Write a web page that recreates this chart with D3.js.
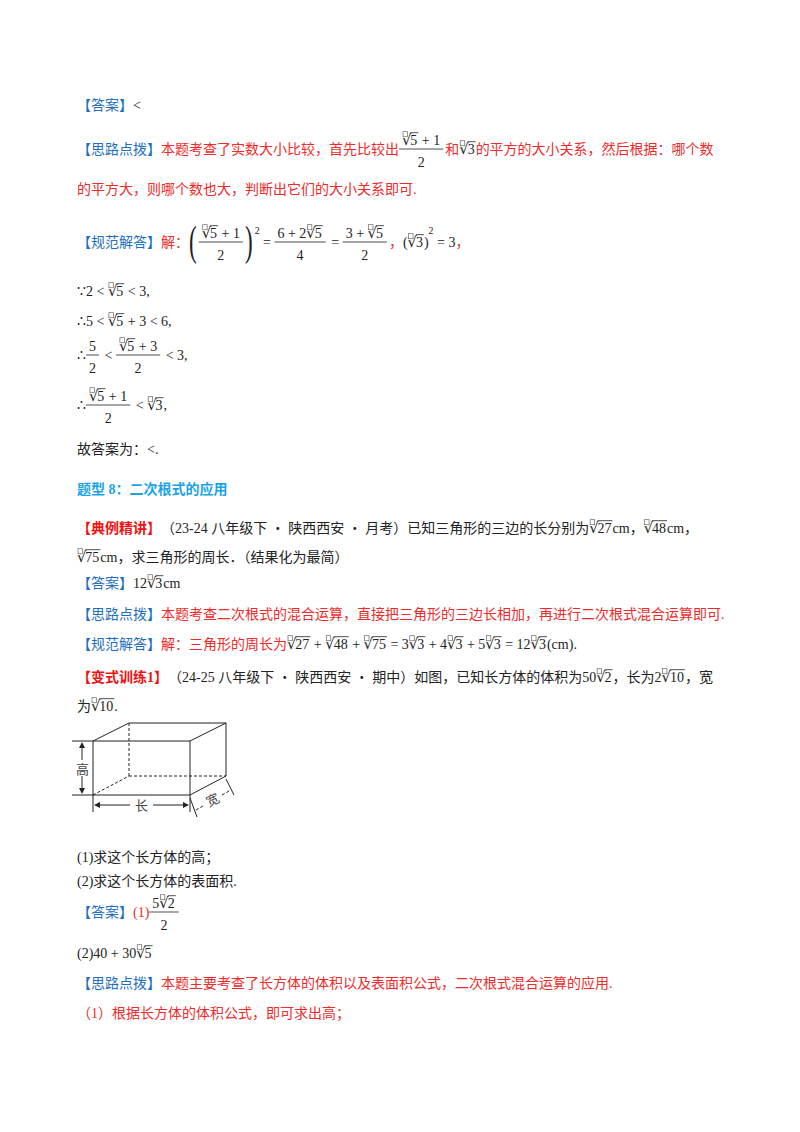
<!DOCTYPE html>
<html><head><meta charset="utf-8">
<script src="https://cdn.jsdelivr.net/npm/d3@7"></script>
<style>body{margin:0;background:#fff}</style></head>
<body><svg id="s" width="800" height="1132"></svg>
<script>
const BLUE="#1f6fc0", RED="#ee2a2a", BLK="#222", SKY="#1aa3e8", DRED="#ee1111";
const T=(s,c)=>({t:s,c:c}), R=(s,c)=>({r:s,c:c}), F=(n,d,c)=>({f:[n,d],c:c}), S=(s,c)=>({sup:s,c:c}), P=(s,c)=>({big:s,c:c});
// page text lines: [y, segments]
const lines=[
 [110,[T("【答案】",BLUE),T("<",BLK)]],
 [154,[T("【思路点拨】",BLUE),T("本题考查了实数大小比较，首先比较出",RED),F([R("5"),T(" + 1")],[T("2")]),T("和",RED),R("3"),T("的平方的大小关系，然后根据：哪个数",RED)]],
 [194,[T("的平方大，则哪个数也大，判断出它们的大小关系即可.",RED)]],
 [247,[T("【规范解答】",BLUE),T("解：",RED),P("("),F([R("5"),T(" + 1")],[T("2")]),P(")"),S("2"),T(" = "),F([T("6 + 2"),R("5")],[T("4")]),T(" = "),F([T("3 + "),R("5")],[T("2")]),T("，",RED),T("("),R("3"),T(")"),S("2"),T(" = 3"),T("，",RED)]],
 [296,[T("∵2 < ",BLK),R("5"),T(" < 3,",BLK)]],
 [326,[T("∴5 < ",BLK),R("5"),T(" + 3 < 6,",BLK)]],
 [360,[T("∴",BLK),F([T("5")],[T("2")]),T(" < "),F([R("5"),T(" + 3")],[T("2")]),T(" < 3,")]],
 [410,[T("∴",BLK),F([R("5"),T(" + 1")],[T("2")]),T(" < "),R("3"),T(",")]],
 [454,[T("故答案为：<.",BLK)]],
 [494,[T("题型 8：二次根式的应用",SKY)]],
 [533,[T("【典例精讲】",DRED),T("（23-24 八年级下 • 陕西西安 • 月考）已知三角形的三边的长分别为",BLK),R("27"),T("cm，",BLK),R("48"),T("cm，",BLK)]],
 [562,[R("75"),T("cm，求三角形的周长．（结果化为最简）",BLK)]],
 [588,[T("【答案】",BLUE),T("12"),R("3"),T("cm")]],
 [619,[T("【思路点拨】",BLUE),T("本题考查二次根式的混合运算，直接把三角形的三边长相加，再进行二次根式混合运算即可.",RED)]],
 [649,[T("【规范解答】",BLUE),T("解：三角形的周长为",RED),R("27"),T(" + "),R("48"),T(" + "),R("75"),T(" = 3"),R("3"),T(" + 4"),R("3"),T(" + 5"),R("3"),T(" = 12"),R("3"),T("(cm).")]],
 [682,[T("【变式训练1】",DRED),T("（24-25 八年级下 • 陕西西安 • 期中）如图，已知长方体的体积为50",BLK),R("2"),T("，长为2",BLK),R("10"),T("，宽",BLK)]],
 [711,[T("为",BLK),R("10"),T(".",BLK)]],
 [862,[T("(1)求这个长方体的高；",BLK)]],
 [886,[T("(2)求这个长方体的表面积.",BLK)]],
 [917,[T("【答案】",BLUE),T("(1)",RED),F([T("5"),R("2")],[T("2")])]],
 [958,[T("(2)40 + 30",BLK),R("5")]],
 [988,[T("【思路点拨】",BLUE),T("本题主要考查了长方体的体积以及表面积公式，二次根式混合运算的应用.",RED)]],
 [1018,[T("（1）根据长方体的体积公式，即可求出高；",RED)]]
];
const svg=d3.select("#s"), FS=14;
const CJK=/[\u3000-\u9fff\uff00-\uffef•]/;
function txt(g,s,x,y,c,fs,bold){
  // split into CJK / latin runs
  let w=0; const runs=s.match(/([\u3000-\u9fff\uff00-\uffef•]+|[^\u3000-\u9fff\uff00-\uffef•]+)/g)||[];
  runs.forEach(r=>{const cj=CJK.test(r);
    const e=g.append("text").attr("x",x+w).attr("y",y).attr("fill",c).attr("font-size",fs)
     .attr("font-family",cj?"Noto Sans CJK SC":"Liberation Serif").attr("font-weight",bold?"bold":"normal").style("white-space","pre").text(r);
    w+=e.node().getComputedTextLength();});
  return w;
}
function render(g,segs,x,y,dflt,fs){
  let w=0;
  segs.forEach(s=>{const c=s.c||dflt;
    if(s.t!==undefined) w+=txt(g,s.t,x+w,y,c,fs,c===SKY||c===DRED);
    else if(s.r!==undefined){
      g.append("rect").attr("x",x+w+1).attr("y",y-fs*0.95).attr("width",fs*0.32).attr("height",fs*0.36).attr("fill","none").attr("stroke","#666").attr("stroke-width",0.7);
      const e=g.append("text").attr("x",x+w).attr("y",y).attr("font-size",fs*1.05).attr("fill",c).attr("font-family","DejaVu Serif").text("√");
      w+=e.node().getComputedTextLength()-1;
      const x0=x+w, rw=txt(g,s.r,x0,y,c,fs);
      g.append("line").attr("x1",x0).attr("x2",x0+rw+1).attr("y1",y-fs*0.88).attr("y2",y-fs*0.88).attr("stroke",c).attr("stroke-width",0.8);
      w+=rw+1;
    } else if(s.f){
      const tg=svg.append("g").attr("opacity",0);
      const nw=render(tg,s.f[0],0,0,BLK,fs), dw=render(tg,s.f[1],0,0,BLK,fs); tg.remove();
      const fw=Math.max(nw,dw)+6;
      render(g,s.f[0],x+w+(fw-nw)/2,y-9,BLK,fs);
      render(g,s.f[1],x+w+(fw-dw)/2,y+13,BLK,fs);
      g.append("line").attr("x1",x+w).attr("x2",x+w+fw).attr("y1",y-5).attr("y2",y-5).attr("stroke",BLK).attr("stroke-width",0.8);
      w+=fw+2;
    } else if(s.sup){ w+=txt(g,s.sup,x+w,y-fs*0.9,c,fs*0.7);
    } else if(s.big){
      const e=g.append("text").attr("x",x+w).attr("y",y+8).attr("font-size",fs*3).attr("fill",c).attr("font-family","Liberation Serif").attr("font-weight","100").attr("transform",`translate(0,0)`).text(s.big);
      e.attr("transform",`translate(${x+w},${y}) scale(0.55,1) translate(${-(x+w)},${-y})`);
      w+=e.node().getComputedTextLength()*0.55+2;
    }
  });
  return w;
}
lines.forEach(([y,segs])=>render(svg.append("g"),segs,77,y,BLK,FS));
// figure
const ln=(a,b,c,d,dash)=>svg.append("line").attr("x1",a).attr("y1",b).attr("x2",c).attr("y2",d).attr("stroke","#222").attr("stroke-width",1).attr("stroke-dasharray",dash?"3,2":null);
ln(93,741,190,741);ln(93,795,190,795);ln(93,741,93,795);ln(190,741,190,795);
ln(93,741,129,723);ln(129,723,226,723);ln(190,741,226,723);ln(226,723,226,776);ln(190,795,226,776);
ln(129,723,129,776,1);ln(129,776,226,776,1);ln(93,795,129,776,1);
ln(72,741,93,741);ln(72,795,93,795);
ln(82,745,82,760);ln(82,776,82,791);
svg.append("text").attr("x",76).attr("y",774).attr("font-size",13).attr("font-family","Noto Sans CJK SC").attr("fill","#444").text("高");
ln(93,795,93,812);ln(190,795,190,812);ln(96,805,130,805);ln(153,805,187,805);
svg.append("text").attr("x",135).attr("y",810).attr("font-size",13).attr("font-family","Noto Sans CJK SC").attr("fill","#444").text("长");
ln(190,798,197,817);ln(226,779,234,795);
svg.append("text").attr("x",206).attr("y",805).attr("font-size",13).attr("font-family","Noto Sans CJK SC").attr("fill","#444").attr("transform","rotate(-25,212,800)").text("宽");
ln(196,810,203,806,1);ln(222,795,229,791,1);
const arr=(x,y,dx,dy)=>svg.append("path").attr("d",`M${x},${y}l${-dx*6-dy*3},${-dy*6-dx*3}l${dy*6},${dx*6}z`).attr("fill","#222");
arr(82,742,0,-1);arr(82,794,0,1);arr(94,805,-1,0);arr(189,805,1,0);
</script></body></html>
